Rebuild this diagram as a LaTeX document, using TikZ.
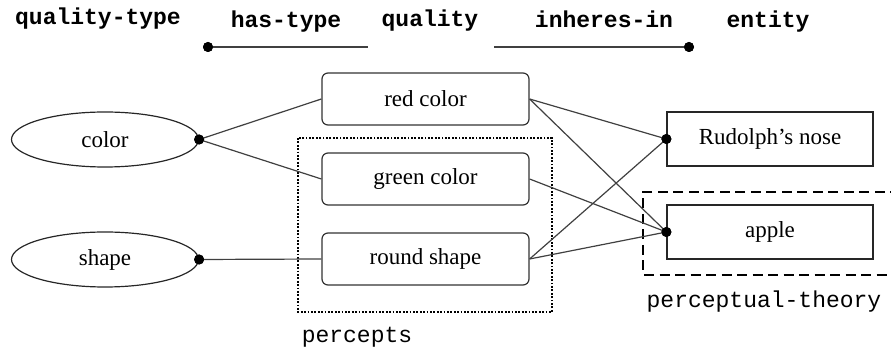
\documentclass[tikz,border=0pt]{standalone}
\usepackage{fontspec}
\setmainfont{Liberation Serif}
\setmonofont{Liberation Mono}
\usetikzlibrary{%
  positioning
 ,shapes
 ,calc
}
\tikzstyle{dia}=[x=1pt,y=-1pt,line width=1.2pt,font=\fontsize{23}{26}\selectfont]
\tikzstyle{qt}=[ellipse,draw=black!85,minimum width=187pt,minimum height=55pt,inner sep=0pt]
\tikzstyle{ql}=[rectangle,rounded corners=6pt,draw=black!80,minimum width=207pt,minimum height=52pt,inner sep=0pt]
\tikzstyle{en}=[rectangle,draw=black!85,minimum width=206pt,minimum height=54pt,inner sep=0pt]
\tikzstyle{hd}=[anchor=base,inner sep=0pt,font=\ttfamily\bfseries\fontsize{23}{26}\selectfont]
\tikzstyle{gl}=[anchor=base,inner sep=0pt,font=\ttfamily\fontsize{23}{26}\selectfont]
\tikzstyle{dt}=[circle,fill=black,inner sep=0pt,minimum size=10pt]
\tikzstyle{ln}=[draw=black!75]

\begin{document}
\begin{tikzpicture}[dia]
  \useasboundingbox (0,0) rectangle (891,352);
% header
  \node[hd] (h_qtype)   at (98,25)  {quality-type};
  \node[hd] (h_hastype) at (286,28) {has-type};
  \node[hd] (h_qual)    at (430,27) {quality};
  \node[hd] (h_inh)     at (604,28) {inheres-in};
  \node[hd] (h_ent)     at (768,28) {entity};
  \node[dt] (d_has) at (208,47) {};
  \coordinate (c_has) at (368,47);
  \coordinate (c_inh) at (494,47);
  \node[dt] (d_inh) at (689,47) {};
  \path[ln] (d_has.center) -- (c_has)
            (c_inh) -- (d_inh.center);
% quality types
  \node[qt]                    (q_color) at (105,139.5) {color};
  \node[qt,node distance=120pt] (q_shape) [below of=q_color] {shape};
% qualities
  \node[ql]                    (p_red)   at (425.5,99) {red color};
  \node[ql,node distance=80pt] (p_green) [below of=p_red]   {green color};
  \node[ql,node distance=80pt] (p_round) [below of=p_green] {round shape};
% entities
  \node[en]                    (e_nose)  at (770,139) {Rudolph's nose};
  \node[en,node distance=93pt] (e_apple) [below of=e_nose] {apple};
% groups
  \draw[line width=2pt,dash pattern=on 1.8pt off 1.6pt] (298,138) rectangle (552,312);
  \node[gl] (g_perc) at (357,343) {percepts};
  \draw[line width=2.4pt,dash pattern=on 10pt off 5.5pt] (900,192) -- (643,192) -- (643,275) -- (900,275);
  \node[gl] (g_theory) at (764,308) {perceptual-theory};
% links
  \node[dt] (d_color) at (q_color.east) {};
  \node[dt] (d_shape) at (q_shape.east) {};
  \node[dt] (d_nose)  at (e_nose.west)  {};
  \node[dt] (d_apple) at (e_apple.west) {};
  \path[ln]
  (d_color.center) edge (p_red.west)
  (d_color.center) edge (p_green.west)
  (d_shape.center) edge (p_round.west)
  (p_red.east)     edge (d_nose.center)
  (p_red.east)     edge (d_apple.center)
  (p_green.east)   edge (d_apple.center)
  (p_round.east)   edge (d_nose.center)
  (p_round.east)   edge (d_apple.center);
  \foreach \d in {d_color,d_shape,d_nose,d_apple,d_has,d_inh}
    \fill (\d) circle (5pt);

\end{tikzpicture}
\end{document}
